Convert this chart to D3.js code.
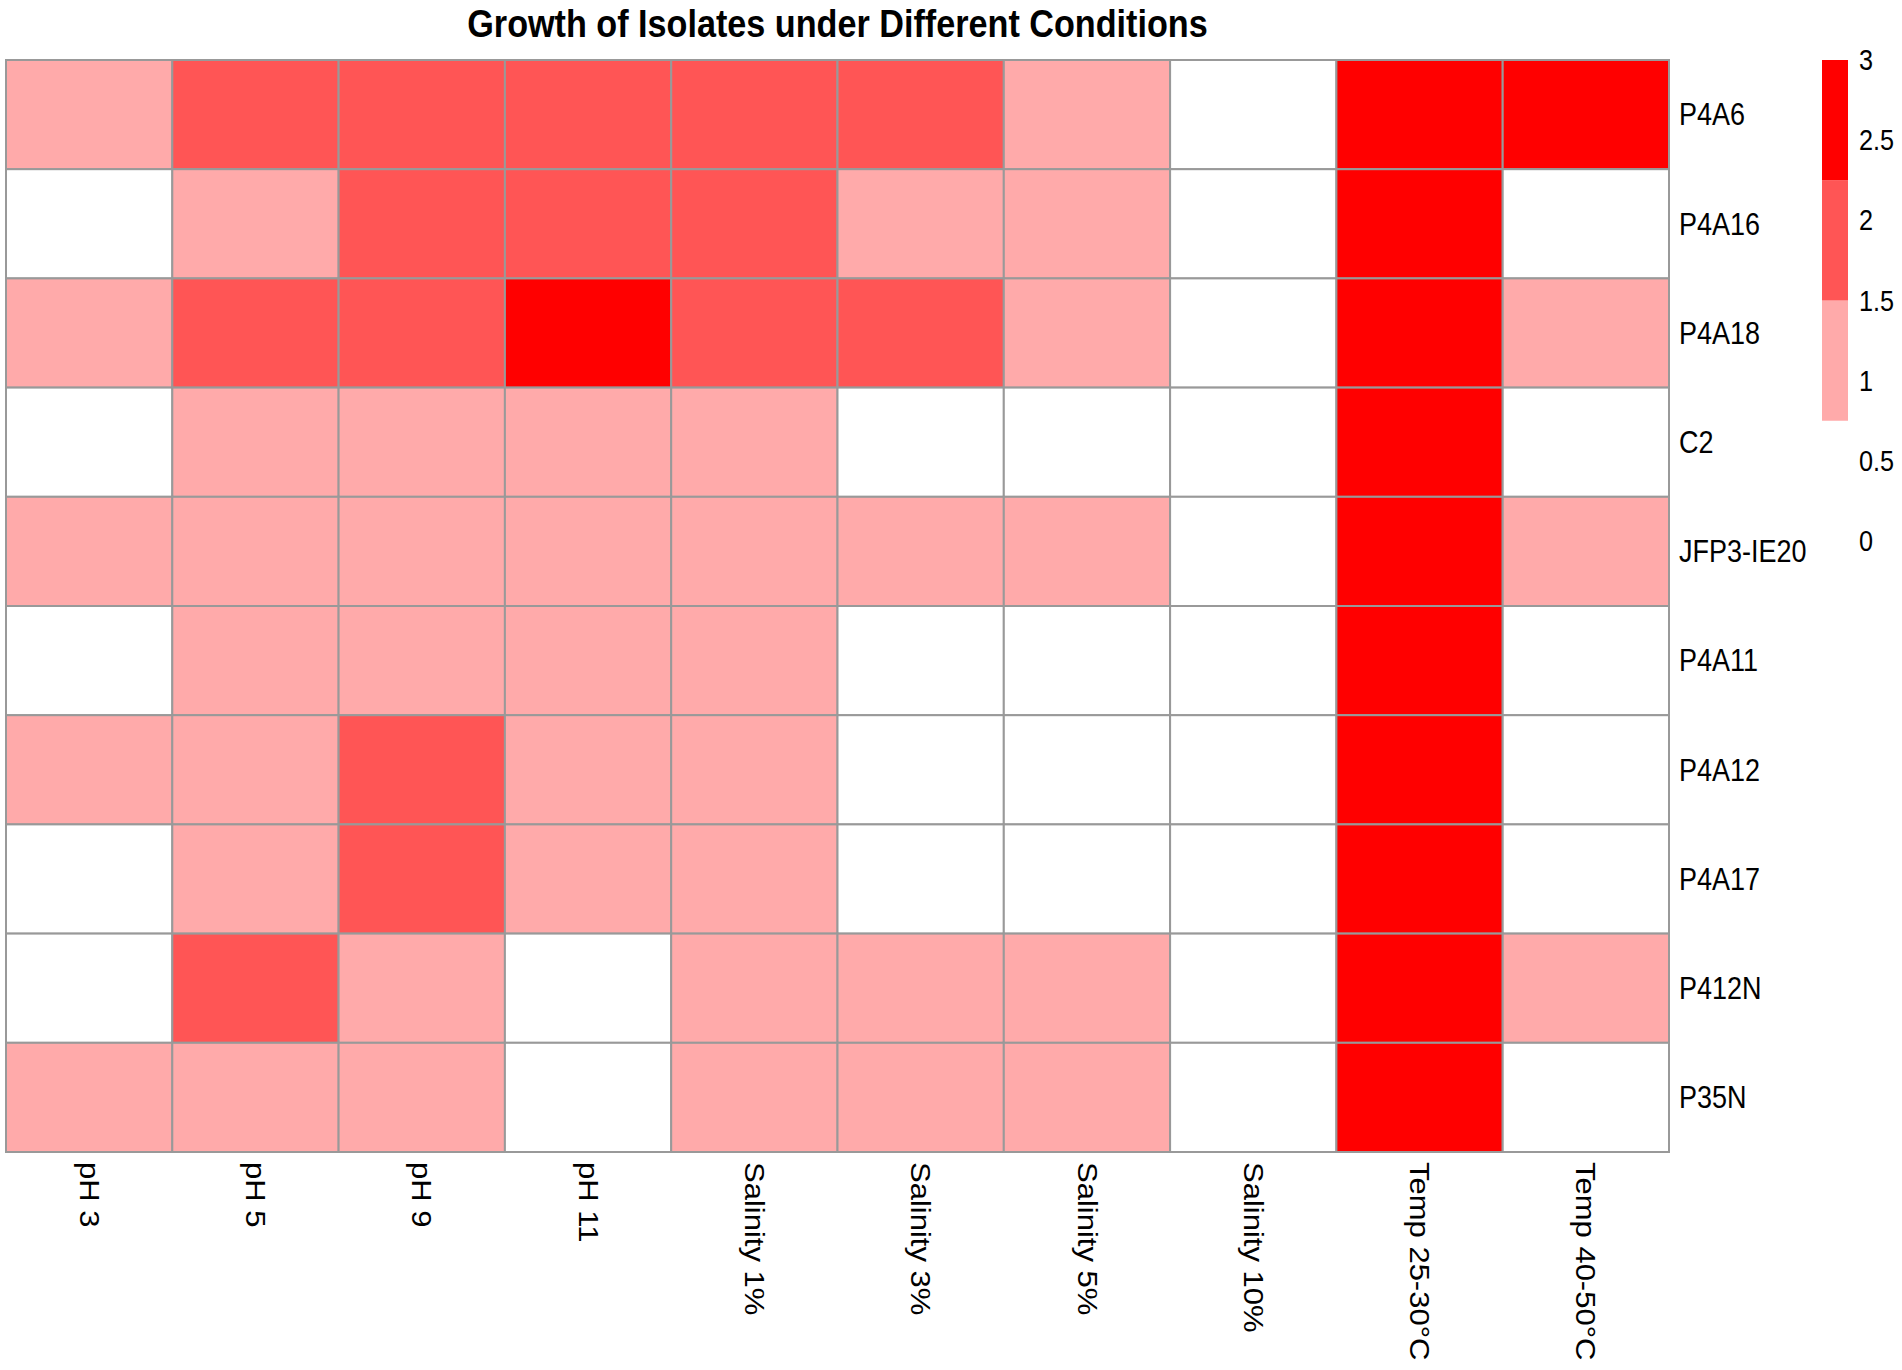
<!DOCTYPE html>
<html>
<head>
<meta charset="utf-8">
<script src="https://cdn.jsdelivr.net/npm/d3@7"></script>
<style>
  body { margin: 0; background: #fff; }
  text { font-family: "Liberation Sans", Arial, sans-serif; fill: #000; }
</style>
</head>
<body>
<svg></svg>
<script>
const width = 1902;
const height = 1370;

// growth score per isolate (rows) and condition (columns)
const isolates = ['P4A6', 'P4A16', 'P4A18', 'C2', 'JFP3-IE20', 'P4A11', 'P4A12', 'P4A17', 'P412N', 'P35N'];
const conditions = ['pH 3', 'pH 5', 'pH 9', 'pH 11', 'Salinity 1%', 'Salinity 3%', 'Salinity 5%', 'Salinity 10%', 'Temp 25-30°C', 'Temp 40-50°C'];
const growth = [
	[1, 2, 2, 2, 2, 2, 1, 0, 3, 3],
	[0, 1, 2, 2, 2, 1, 1, 0, 3, 0],
	[1, 2, 2, 3, 2, 2, 1, 0, 3, 1],
	[0, 1, 1, 1, 1, 0, 0, 0, 3, 0],
	[1, 1, 1, 1, 1, 1, 1, 0, 3, 1],
	[0, 1, 1, 1, 1, 0, 0, 0, 3, 0],
	[1, 1, 2, 1, 1, 0, 0, 0, 3, 0],
	[0, 1, 2, 1, 1, 0, 0, 0, 3, 0],
	[0, 2, 1, 0, 1, 1, 1, 0, 3, 1],
	[1, 1, 1, 0, 1, 1, 1, 0, 3, 0]
];
const breaks = [0, 0.75, 1.5, 2.25, 3];
const legendTicks = [0, 0.5, 1, 1.5, 2, 2.5, 3];
const palette = ['#FFFFFF', '#FFAAAA', '#FF5555', '#FF0000'];

const squeeze = 0.87; // text in the original is narrowed horizontally

const svg = d3.select('svg')
	.attr('width', width)
	.attr('height', height);

const grid = { left: 6, right: 1669, top: 60, bottom: 1152 };

const x = d3.scaleBand()
	.domain(conditions)
	.range([grid.left, grid.right]);

const y = d3.scaleBand()
	.domain(isolates)
	.range([grid.top, grid.bottom]);

const color = d3.scaleThreshold()
	.domain(breaks.slice(1, -1))
	.range(palette);

const cells = [];
growth.forEach((row, i) => {
	row.forEach((v, j) => cells.push({ isolate: isolates[i], condition: conditions[j], value: v }));
});

svg.append('g')
	.selectAll('rect')
	.data(cells)
	.enter().append('rect')
		.attr('x', d => x(d.condition))
		.attr('y', d => y(d.isolate))
		.attr('width', x.bandwidth())
		.attr('height', y.bandwidth())
		.attr('fill', d => color(d.value))
		.attr('stroke', '#999999')
		.attr('stroke-width', 2);

// title
svg.append('text')
	.attr('transform', `translate(${(grid.left + grid.right) / 2},37) scale(0.9,1)`)
	.attr('text-anchor', 'middle')
	.style('font-weight', 'bold')
	.style('font-size', '38px')
	.text('Growth of Isolates under Different Conditions');

// row labels
svg.append('g')
	.selectAll('text')
	.data(isolates)
	.enter().append('text')
		.attr('transform', d => `translate(${grid.right + 10},${y(d) + y.bandwidth() / 2}) scale(${squeeze},1)`)
		.attr('dy', '0.35em')
		.style('font-size', '31px')
		.text(d => d);

// column labels, rotated
svg.append('g')
	.selectAll('text')
	.data(conditions)
	.enter().append('text')
		.attr('transform', d => `translate(${x(d) + x.bandwidth() / 2},${grid.bottom + 10}) scale(${squeeze},1) rotate(90)`)
		.attr('dy', '0.35em')
		.style('font-size', '31px')
		.text(d => d);

// legend
const legendY = d3.scaleLinear()
	.domain([0, 3])
	.range([541, 60]);

const legend = svg.append('g');

legend.selectAll('rect')
	.data(d3.pairs(breaks))
	.enter().append('rect')
		.attr('x', 1822)
		.attr('y', d => legendY(d[1]))
		.attr('width', 26)
		.attr('height', d => legendY(d[0]) - legendY(d[1]))
		.attr('fill', d => color(d[0]));

legend.selectAll('text')
	.data(legendTicks)
	.enter().append('text')
		.attr('transform', d => `translate(1859,${legendY(d)}) scale(${squeeze},1)`)
		.attr('dy', '0.35em')
		.style('font-size', '29px')
		.text(d => d);
</script>
</body>
</html>
